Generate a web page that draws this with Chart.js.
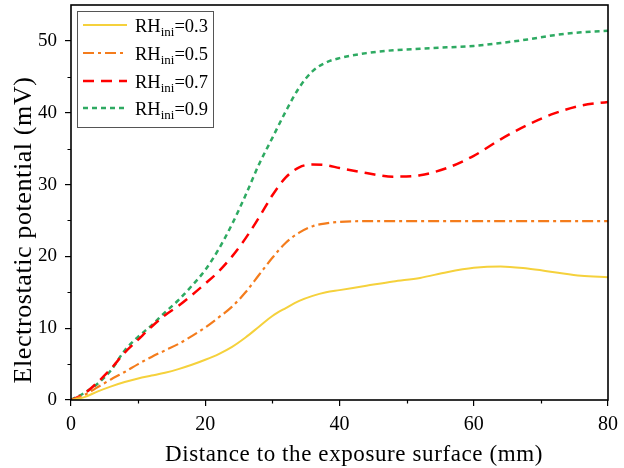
<!DOCTYPE html>
<html>
<head>
<meta charset="utf-8">
<script src="https://cdn.jsdelivr.net/npm/chart.js@4/dist/chart.umd.min.js"></script>
<style>
html,body{margin:0;padding:0;background:#fff;}
#wrap{width:624px;height:468px;}
</style>
</head>
<body>
<div id="wrap"><canvas id="c" width="624" height="468"></canvas></div>
<script>
const distances = [0,2,4,6,8,10,12,14,16,18,20,22,24,26,28,30,32,34,36,38,40,44,48,52,56,60,64,68,72,76,80];
const rh03 = [0,0.4,1.2,1.9,2.5,3.0,3.4,3.8,4.3,4.9,5.6,6.4,7.4,8.7,10.2,11.7,12.8,13.8,14.5,15.0,15.3,15.9,16.5,17.0,17.8,18.4,18.6,18.3,17.8,17.3,17.1];
const rh05 = [0,0.7,1.8,2.9,3.9,5.0,6.0,6.9,7.8,8.9,10.1,11.5,13.0,15.0,17.4,19.8,21.9,23.3,24.2,24.6,24.8,24.9,24.9,24.9,24.9,24.9,24.9,24.9,24.9,24.9,24.9];
const rh07 = [0,0.9,2.5,4.4,6.6,8.4,10.2,11.8,13.1,14.6,16.2,17.9,20.0,22.5,25.4,28.5,31.0,32.4,32.8,32.7,32.3,31.6,31.1,31.3,32.3,34.0,36.3,38.3,39.9,41.0,41.5];
const rh09 = [0,1.0,2.3,4.2,6.9,8.8,10.4,12.2,13.9,15.9,18.1,21.0,24.5,28.5,32.8,36.5,40.2,43.5,45.8,47.0,47.6,48.3,48.7,48.9,49.1,49.3,49.7,50.2,50.8,51.2,51.4];
const seriesLabels = ['0.3','0.5','0.7','0.9'];
const xTicks = [0,20,40,60,80];
const yTicks = [0,10,20,30,40,50];
const xMinorTicks = [10,30,50,70];
const yMinorTicks = [5,15,25,35,45];
const xTitle = 'Distance to the exposure surface (mm)';
const yTitle = 'Electrostatic potential (mV)';

const colors = ['#F5D13C','#F47C1C','#FF0000','#2EAA62'];
const dashes = [[],[11,4,3,4],[11,7],[5,4]];
const widths = [2,2.2,2.5,2.5];
const allSeries = [rh03, rh05, rh07, rh09];

const datasets = allSeries.map((s,i)=>({
  label: 'RH_ini=' + seriesLabels[i],
  data: distances.map((d,j)=>({x:d,y:s[j]})),
  borderColor: colors[i],
  backgroundColor: colors[i],
  borderDash: dashes[i],
  borderWidth: widths[i],
  pointRadius: 0,
  cubicInterpolationMode: 'monotone',
  fill: false
}));

const FONT = "'Liberation Serif', 'Times New Roman', serif";

const framePlugin = {
  id: 'frame',
  afterDraw(chart){
    const ctx = chart.ctx;
    const a = chart.chartArea;
    const xs = chart.scales.x, ys = chart.scales.y;
    ctx.save();
    ctx.strokeStyle = '#000';
    ctx.lineWidth = 1.2;
    ctx.beginPath();
    xMinorTicks.forEach(v=>{
      const px = Math.round(xs.getPixelForValue(v))+0.5;
      ctx.moveTo(px, a.bottom); ctx.lineTo(px, a.bottom+3.5);
    });
    yMinorTicks.forEach(v=>{
      const py = Math.round(ys.getPixelForValue(v))+0.5;
      ctx.moveTo(a.left, py); ctx.lineTo(a.left-3.5, py);
    });
    ctx.stroke();
    ctx.lineWidth = 1.6;
    ctx.strokeRect(a.left, a.top, a.right-a.left, a.bottom-a.top);

    // axis titles
    ctx.fillStyle = '#000';
    ctx.textBaseline = 'alphabetic';
    ctx.textAlign = 'center';
    ctx.font = '23px ' + FONT;
    if ('letterSpacing' in ctx) ctx.letterSpacing = '0.6px';
    ctx.fillText(xTitle, 354, 461);
    ctx.save();
    ctx.translate(31, 230);
    ctx.rotate(-Math.PI/2);
    ctx.font = '26px ' + FONT;
    if ('letterSpacing' in ctx) ctx.letterSpacing = '0.6px';
    ctx.fillText(yTitle, 0, 0);
    ctx.restore();
    if ('letterSpacing' in ctx) ctx.letterSpacing = '0px';

    // legend
    const bx = 77, by = 11, bw = 136, bh = 116;
    ctx.fillStyle = '#fff';
    ctx.fillRect(bx,by,bw,bh);
    ctx.strokeStyle = '#555';
    ctx.lineWidth = 1;
    ctx.strokeRect(bx+0.5,by+0.5,bw,bh);
    const rows = [25,53,81,108];
    rows.forEach((ry,i)=>{
      ctx.beginPath();
      ctx.strokeStyle = colors[i];
      ctx.lineWidth = widths[i];
      ctx.setLineDash(dashes[i]);
      ctx.moveTo(83, ry); ctx.lineTo(127, ry);
      ctx.stroke();
      ctx.setLineDash([]);
      ctx.fillStyle = '#000';
      ctx.textBaseline = 'alphabetic';
      ctx.textAlign = 'left';
      ctx.font = '18.5px ' + FONT;
      let tx = 135;
      ctx.fillText('RH', tx, ry+6.5);
      tx += ctx.measureText('RH').width;
      ctx.font = '13px ' + FONT;
      ctx.fillText('ini', tx, ry+10.5);
      tx += ctx.measureText('ini').width;
      ctx.font = '18.5px ' + FONT;
      ctx.fillText('=' + seriesLabels[i], tx, ry+6.5);
    });
    ctx.restore();
  }
};

new Chart(document.getElementById('c'), {
  type: 'line',
  data: { datasets },
  options: {
    responsive: false,
    animation: false,
    devicePixelRatio: 1,
    layout: { padding: { left: 7, top: 5, right: 16, bottom: 0 } },
    plugins: { legend: { display: false }, tooltip: { enabled: false } },
    scales: {
      x: {
        type: 'linear', min: 0, max: 80,
        afterFit(s){ s.height = 68; s.paddingLeft = 0; s.paddingRight = 0; },
        afterBuildTicks(s){ s.ticks = xTicks.map(v=>({value:v})); },
        ticks: { color:'#000', font:{family:FONT,size:20}, padding:7, maxRotation:0 },
        grid: { drawOnChartArea:false, tickLength:6, color:'#000', lineWidth:1.2 },
        border: { display:false },
        title: { display:false }
      },
      y: {
        type: 'linear', min: 0, max: 55,
        afterFit(s){ s.width = 64; s.paddingTop = 0; s.paddingBottom = 0; },
        afterBuildTicks(s){ s.ticks = yTicks.map(v=>({value:v})); },
        ticks: { color:'#000', font:{family:FONT,size:19}, padding:8 },
        grid: { drawOnChartArea:false, tickLength:6, color:'#000', lineWidth:1.2 },
        border: { display:false },
        title: { display:false }
      }
    }
  },
  plugins: [framePlugin]
});
</script>
</body>
</html>
